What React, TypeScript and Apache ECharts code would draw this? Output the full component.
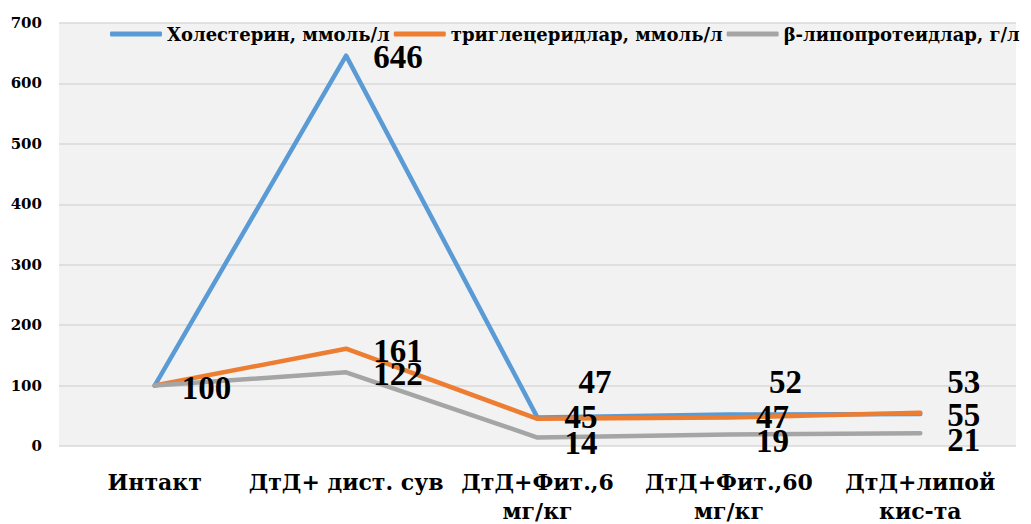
import React, { useEffect, useRef } from "react";
import * as echarts from "echarts";

const categories = [
  "Интакт",
  "ДтД+ дист. сув",
  "ДтД+Фит.,6\nмг/кг",
  "ДтД+Фит.,60\nмг/кг",
  "ДтД+липой\nкис-та",
];
const seriesNames = [
  "Холестерин, ммоль/л",
  "триглецеридлар, ммоль/л",
  "β-липопротеидлар, г/л",
];
const cholesterol = [100, 646, 47, 52, 53];
const triglycerides = [100, 161, 45, 47, 55];
const lipoproteins = [100, 122, 14, 19, 21];
const yTicks = { min: 0, max: 700, interval: 100 };

// label placement tweaks (style only), [dx, dy] per series and point
const labelShifts: [number, number][][] = [
  [[0, 2], [0, 1], [14, -36], [13, -33], [0, -32]],
  [[0, 2], [0, 2], [0, -2], [0, -1], [0, 2]],
  [[0, 2], [0, 2], [0, 5], [0, 6], [0, 7]],
];
const colors = ["#5B9BD5", "#ED7D31", "#A5A5A5"];

function buildData(values: number[], hideFirst: boolean) {
  return values.map((v, i) => ({
    value: v,
    label: { show: !(hideFirst && i === 0) },
  }));
}

export default function App() {
  const ref = useRef<HTMLDivElement>(null);
  useEffect(() => {
    if (!ref.current) return;
    const chart = echarts.init(ref.current, null, { renderer: "svg" });
    const labelStyle = {
      show: true,
      position: "right" as const,
      distance: 27,
      formatter: "{c}",
      color: "#000",
      fontFamily: "Liberation Serif",
      fontWeight: "bold" as const,
      fontSize: 33,
      lineHeight: 18,
    };
    const mk = (idx: number, data: any[]) => ({
      name: seriesNames[idx],
      type: "line" as const,
      data,
      symbol: "circle",
      symbolSize: 0.1,
      showSymbol: true,
      lineStyle: { color: colors[idx], width: 4.5, cap: "round" as const, join: "round" as const },
      itemStyle: { color: colors[idx] },
      label: labelStyle,
      labelLayout: (p: any) => {
        const s = labelShifts[idx][p.dataIndex] || [0, 0];
        return { dx: s[0], dy: s[1], hideOverlap: false };
      },
    });
    chart.setOption({
      animation: false,
      backgroundColor: "#ffffff",
      color: colors,
      grid: {
        left: 59,
        right: 15,
        top: 23,
        bottom: 78,
        show: true,
        backgroundColor: "#f2f2f2",
        borderWidth: 0,
        containLabel: false,
        outerBoundsMode: "none",
      },
      legend: {
        show: true,
        left: 110,
        top: 25,
        width: 1400,
        padding: 0,
        itemGap: 4,
        itemWidth: 52,
        itemHeight: 5,
        icon: "roundRect",
        textStyle: {
          color: "#000",
          fontFamily: "DejaVu Serif",
          fontWeight: "bold",
          fontSize: 18,
        },
        data: seriesNames,
      },
      xAxis: {
        type: "category",
        data: categories,
        boundaryGap: true,
        axisLine: { show: false },
        axisTick: { show: false },
        axisLabel: {
          color: "#000",
          fontFamily: "DejaVu Serif",
          fontWeight: "bold",
          fontSize: 22,
          lineHeight: 29,
          margin: 21,
          interval: 0,
        },
      },
      yAxis: {
        type: "value",
        min: yTicks.min,
        max: yTicks.max,
        interval: yTicks.interval,
        axisLine: { show: false },
        axisTick: { show: false },
        splitLine: { show: true, lineStyle: { color: "#d9d9d9", width: 1.5 } },
        axisLabel: {
          color: "#000",
          fontFamily: "DejaVu Serif",
          fontWeight: "bold",
          fontSize: 15,
          margin: 17,
        },
      },
      series: [
        mk(0, buildData(cholesterol, false)),
        mk(1, buildData(triglycerides, true)),
        mk(2, buildData(lipoproteins, true)),
      ],
    });
    return () => chart.dispose();
  }, []);
  return (
    <div
      ref={ref}
      style={{ position: "fixed", left: 0, top: 0, width: 1031, height: 524 }}
    />
  );
}
